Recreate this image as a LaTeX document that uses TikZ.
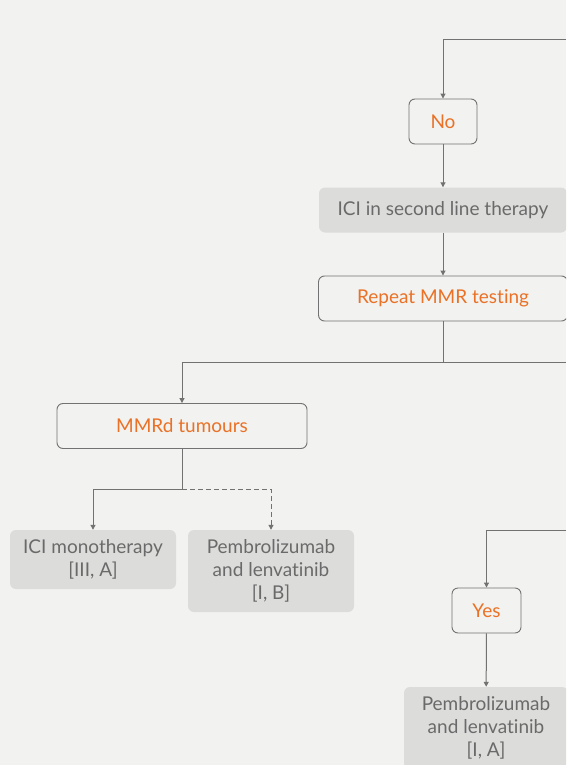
\documentclass[tikz,border=0pt]{standalone}
\usepackage{fontspec}
\setmainfont{Lato}[Ligatures=NoCommon]
\usetikzlibrary{positioning,arrows.meta}
\definecolor{bgcol}{HTML}{F2F2F0}
\definecolor{linecol}{HTML}{727272}
\definecolor{boxgray}{HTML}{DCDCDB}
\definecolor{txtgray}{HTML}{6A6A6A}
\definecolor{txtorange}{HTML}{EA7125}
\begin{document}
\begin{tikzpicture}[
  x=1pt, y=-1pt,
  >={Triangle[length=5pt,width=5pt]},
  conn/.style={draw=linecol, line width=1pt},
  decision/.style={
    draw=linecol,
    line width=0.9pt,
    rounded corners=6pt,
    text=txtorange,
    font=\fontsize{19}{23}\selectfont,
    minimum height=45pt,
    inner sep=0pt
  },
  therapy/.style={
    fill=boxgray,
    rounded corners=6pt,
    text=txtgray,
    align=center,
    font=\fontsize{19}{23}\selectfont,
    minimum height=45pt,
    inner sep=0pt
  }
]
\clip (0,0) rectangle (566,765);
\fill[bgcol] (0,0) rectangle (566,765);

\node[decision, minimum width=68pt]  (no)      at (443,121.5) {No};
\node[therapy,  minimum width=248pt] (icisec)  at (443,210)   {ICI in second line therapy};
\node[decision, minimum width=249pt] (repeat)  at (443,298.5) {Repeat MMR testing};
\node[decision, minimum width=250pt] (mmrd)    at (182,426)   {MMRd tumours};
\node[therapy,  minimum width=166pt, minimum height=59pt] (icimono) at (93,559.5) {ICI monotherapy\\{}[III, A]};
\node[therapy,  minimum width=166pt, minimum height=82pt] (pembroB) at (271,571)  {Pembrolizumab\\and lenvatinib\\{}[I, B]};
\node[decision, minimum width=69pt]  (yes)     at (486.5,610.5) {Yes};
\node[therapy,  minimum width=164pt, minimum height=82pt] (pembroA) at (486,728)  {Pembrolizumab\\and lenvatinib\\{}[I, A]};

\coordinate (topin)  at (566,40);
\coordinate (fork1)  at (443,362);
\coordinate (exit1)  at (566,362);
\coordinate (fork2)  at (182,489);
\coordinate (yesin)  at (566,530);

\draw[conn,->] (topin) -| (no.north);
\draw[conn,->] (no) -- (icisec);
\draw[conn,->] (icisec) -- (repeat);
\draw[conn] (repeat) -- (fork1);
\draw[conn] (fork1) -- (exit1);
\draw[conn,->] (fork1) -| (mmrd.north);
\draw[conn] (mmrd) -- (fork2);
\draw[conn,->] (fork2) -| (icimono.north);
\draw[conn,->,dash pattern=on 5pt off 3pt] (fork2) -| (pembroB.north);
\draw[conn,->] (yesin) -| (yes.north);
\draw[conn,->] (yes) -- (pembroA);
\end{tikzpicture}
\end{document}
